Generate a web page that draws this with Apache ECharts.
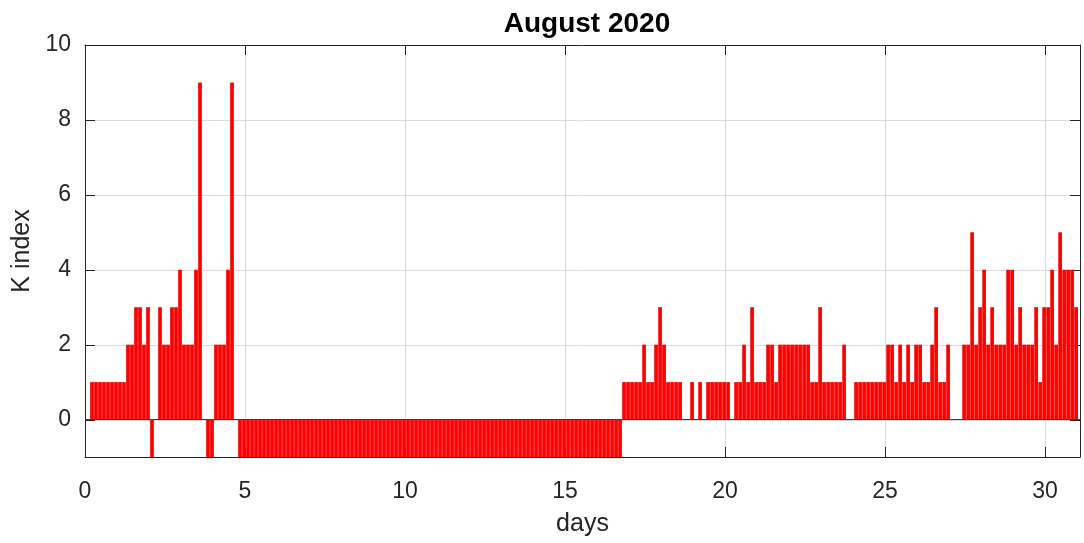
<!DOCTYPE html>
<html>
<head>
<meta charset="utf-8">
<script src="https://cdn.jsdelivr.net/npm/echarts@6/dist/echarts.min.js"></script>
<style>
html,body{margin:0;padding:0;background:#fff;}
#chart{width:1084px;height:543px;}
</style>
</head>
<body>
<div id="chart"></div>
<script>
// K index, 3-hour intervals, August 2020 (8 values per day, day 0 .. day 30)
const kIndex = [
  0, 1, 1, 1, 1, 1, 1, 1,
  1, 1, 2, 2, 3, 3, 2, 3,
  -1, 0, 3, 2, 2, 3, 3, 4,
  2, 2, 2, 4, 9, 0, -1, -1,
  2, 2, 2, 4, 9, 0, -1, -1,
  -1, -1, -1, -1, -1, -1, -1, -1,
  -1, -1, -1, -1, -1, -1, -1, -1,
  -1, -1, -1, -1, -1, -1, -1, -1,
  -1, -1, -1, -1, -1, -1, -1, -1,
  -1, -1, -1, -1, -1, -1, -1, -1,
  -1, -1, -1, -1, -1, -1, -1, -1,
  -1, -1, -1, -1, -1, -1, -1, -1,
  -1, -1, -1, -1, -1, -1, -1, -1,
  -1, -1, -1, -1, -1, -1, -1, -1,
  -1, -1, -1, -1, -1, -1, -1, -1,
  -1, -1, -1, -1, -1, -1, -1, -1,
  -1, -1, -1, -1, -1, -1, 1, 1,
  1, 1, 1, 2, 1, 1, 2, 3,
  2, 1, 1, 1, 1, 0, 0, 1,
  0, 1, 0, 1, 1, 1, 1, 1,
  1, 0, 1, 1, 2, 1, 3, 1,
  1, 1, 2, 2, 1, 2, 2, 2,
  2, 2, 2, 2, 2, 1, 1, 3,
  1, 1, 1, 1, 1, 2, 0, 0,
  1, 1, 1, 1, 1, 1, 1, 1,
  2, 2, 1, 2, 1, 2, 1, 2,
  2, 1, 1, 2, 3, 1, 1, 2,
  0, 0, 0, 2, 2, 5, 2, 3,
  4, 2, 3, 2, 2, 2, 4, 4,
  2, 3, 2, 2, 2, 3, 1, 3,
  3, 4, 2, 5, 4, 4, 4, 3
];
const sampleStart = 0.09375;   // days
const sampleStep = 0.125;      // 3 hours in days
const xTicks = [0, 5, 10, 15, 20, 25, 30];
const yTicks = [0, 2, 4, 6, 8, 10];
const titleText = 'August 2020';
const xName = 'days';
const yName = 'K index';

const seriesData = kIndex.map((k, i) => [sampleStart + i * sampleStep, k]);

const axisColor = '#262626';
const gridColor = '#dcdcdc';
const font = 'Liberation Sans, Arial, Helvetica, sans-serif';

const chart = echarts.init(document.getElementById('chart'), null, {renderer: 'canvas'});
chart.setOption({
  animation: false,
  backgroundColor: '#ffffff',
  title: {
    text: titleText, left: 582, top: 5, textAlign: 'center',
    textStyle: {fontFamily: font, fontSize: 28, fontWeight: 'bold', color: '#000'}
  },
  grid: [
    {left: 85, top: 45, width: 995, height: 412, containLabel: false},
    {left: 85, top: 45, width: 995, height: 375, containLabel: false}
  ],
  xAxis: [
    {
      type: 'value', gridIndex: 0, min: 0, max: 31.09, interval: 5,
      position: 'bottom',
      name: xName, nameLocation: 'middle', nameGap: 55,
      nameTextStyle: {fontFamily: font, fontSize: 25, color: axisColor},
      axisLine: {show: true, onZero: false, lineStyle: {color: axisColor, width: 1}},
      axisTick: {show: true, inside: true, length: 10, lineStyle: {color: axisColor}},
      axisLabel: {fontFamily: font, fontSize: 23, color: axisColor, margin: 23, showMaxLabel: false,
        formatter: v => xTicks.includes(v) ? String(v) : ''},
      splitLine: {show: true, lineStyle: {color: gridColor, width: 1}}
    },
    {
      type: 'value', gridIndex: 0, min: 0, max: 31.09, interval: 5,
      position: 'top',
      axisLine: {show: true, onZero: false, lineStyle: {color: axisColor, width: 1}},
      axisTick: {show: true, inside: true, length: 10, lineStyle: {color: axisColor}},
      axisLabel: {show: false},
      splitLine: {show: false}
    },
    {
      type: 'value', gridIndex: 1, min: 0, max: 31.09, show: false
    }
  ],
  yAxis: [
    {
      type: 'value', gridIndex: 0, min: -1, max: 10,
      position: 'left',
      name: yName, nameLocation: 'middle', nameGap: 50, nameRotate: 90,
      nameTextStyle: {fontFamily: font, fontSize: 25, color: axisColor},
      axisLine: {show: true, onZero: false, lineStyle: {color: axisColor, width: 1}},
      axisTick: {show: false}, axisLabel: {show: false}, splitLine: {show: false}
    },
    {
      type: 'value', gridIndex: 0, min: -1, max: 10,
      position: 'right',
      axisLine: {show: true, onZero: false, lineStyle: {color: axisColor, width: 1}},
      axisTick: {show: false}, axisLabel: {show: false}, splitLine: {show: false}
    },
    {
      type: 'value', gridIndex: 1, min: 0, max: 10, interval: 2,
      position: 'left',
      axisLine: {show: false},
      axisTick: {show: true, inside: true, length: 10, lineStyle: {color: axisColor}},
      axisLabel: {fontFamily: font, fontSize: 23, color: axisColor, margin: 14,
        formatter: v => yTicks.includes(v) ? String(v) : ''},
      splitLine: {show: true, lineStyle: {color: gridColor, width: 1}}
    },
    {
      type: 'value', gridIndex: 1, min: 0, max: 10, interval: 2,
      position: 'right',
      axisLine: {show: false},
      axisTick: {show: true, inside: true, length: 10, lineStyle: {color: axisColor}},
      axisLabel: {show: false},
      splitLine: {show: false}
    }
  ],
  series: [
    {
      type: 'bar', xAxisIndex: 0, yAxisIndex: 0,
      data: seriesData,
      barWidth: 3.7,
      itemStyle: {color: '#ff0000'},
      z: 1
    },
    {
      type: 'line', xAxisIndex: 0, yAxisIndex: 0,
      data: [[0, 0], [31.09, 0]],
      symbol: 'none', silent: true,
      lineStyle: {color: '#3a3a3a', width: 1},
      z: 2
    }
  ]
});
</script>
</body>
</html>
